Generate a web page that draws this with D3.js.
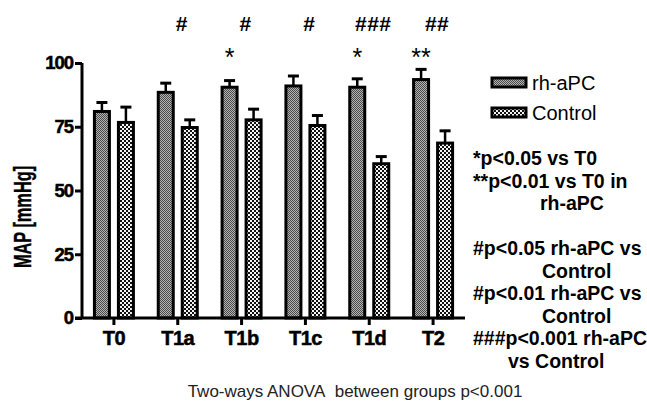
<!DOCTYPE html>
<html>
<head>
<meta charset="utf-8">
<script src="https://cdn.jsdelivr.net/npm/d3@7"></script>
<style>
  html, body { margin: 0; padding: 0; background: #fff; }
  svg { display: block; font-family: "Liberation Sans", Arial, sans-serif; }
</style>
</head>
<body>
<svg id="chart" width="647" height="401"></svg>
<script>
// data
const timepoints = ['T0', 'T1a', 'T1b', 'T1c', 'T1d', 'T2'];
const groups = ['rh-aPC', 'Control'];
const rhMean = [81, 88.5, 90.5, 91, 90.5, 93.5];
const rhSem = [3.5, 3.6, 2.6, 3.9, 3.3, 4];
const ctrlMean = [76.7, 74.7, 77.7, 75.5, 60.5, 68.6];
const ctrlSem = [6, 3, 4.2, 3.9, 2.8, 4.8];
const yTicks = [0, 25, 50, 75, 100];
const hashMarks = ['', '#', '#', '#', '###', '##'];
const starMarks = ['', '', '*', '', '*', '**'];
const noteLines = [
    ['*p<0.05 vs T0'],
    ['**p<0.01 vs T0 in', 'rh-aPC'],
    [],
    ['#p<0.05 rh-aPC vs', 'Control'],
    ['#p<0.01 rh-aPC vs', 'Control'],
    ['###p<0.001 rh-aPC', 'vs Control']
];
const footnote = 'Two-ways ANOVA\u00a0 between groups p<0.001';

const svg = d3.select('#chart');

// patterns
const defs = svg.append('defs');
const pRh = defs.append('pattern').attr('id', 'pat-rh')
    .attr('patternUnits', 'userSpaceOnUse').attr('width', 2).attr('height', 2);
pRh.append('rect').attr('width', 2).attr('height', 2).attr('fill', '#b4b4b4');
pRh.append('rect').attr('width', 1).attr('height', 1).attr('fill', '#4a4a4a');
pRh.append('rect').attr('x', 1).attr('y', 1).attr('width', 1).attr('height', 1).attr('fill', '#4a4a4a');

const pCt = defs.append('pattern').attr('id', 'pat-ctrl')
    .attr('patternUnits', 'userSpaceOnUse').attr('width', 4).attr('height', 4);
pCt.append('rect').attr('width', 4).attr('height', 4).attr('fill', '#f4f4f4');
pCt.append('rect').attr('width', 2).attr('height', 2).attr('fill', '#111');
pCt.append('rect').attr('x', 2).attr('y', 2).attr('width', 2).attr('height', 2).attr('fill', '#111');

const fills = {'rh-aPC': 'url(#pat-rh)', 'Control': 'url(#pat-ctrl)'};

// scales
const x0 = d3.scaleBand().domain(timepoints).range([82, 465]);
const x1 = d3.scaleBand().domain(groups).range([-24, 24])
    .paddingInner(0.375).paddingOuter(0.1875);
const y = d3.scaleLinear().domain([0, 100]).range([318, 63]);

const rows = [];
timepoints.forEach((t, i) => {
    rows.push({t, g: 'rh-aPC', mean: rhMean[i], sem: rhSem[i]});
    rows.push({t, g: 'Control', mean: ctrlMean[i], sem: ctrlSem[i]});
});
const cx = d => x0(d.t) + x0.bandwidth() / 2 + x1(d.g) + x1.bandwidth() / 2;

// error bars (behind bars)
const eb = svg.append('g').attr('stroke', '#000');
eb.selectAll('line.stem').data(rows).enter().append('line')
    .attr('x1', cx).attr('x2', cx)
    .attr('y1', d => y(d.mean)).attr('y2', d => y(d.mean + d.sem))
    .attr('stroke-width', 2.5);
eb.selectAll('line.cap').data(rows).enter().append('line')
    .attr('x1', d => cx(d) - 5.5).attr('x2', d => cx(d) + 5.5)
    .attr('y1', d => y(d.mean + d.sem)).attr('y2', d => y(d.mean + d.sem))
    .attr('stroke-width', 3);

// bars
svg.append('g').selectAll('rect').data(rows).enter().append('rect')
    .attr('x', d => cx(d) - x1.bandwidth() / 2)
    .attr('y', d => y(d.mean))
    .attr('width', x1.bandwidth())
    .attr('height', d => y(0) - y(d.mean))
    .attr('fill', d => fills[d.g])
    .attr('stroke', '#000')
    .attr('stroke-width', 3);

// y axis
const yAxis = svg.append('g').attr('transform', 'translate(82,0)')
    .call(d3.axisLeft(y).tickValues(yTicks).tickSize(7).tickPadding(2));
yAxis.select('.domain').attr('d', `M0,${y(100)}V${y(0)}`).attr('stroke-width', 3);
yAxis.selectAll('.tick line').attr('stroke-width', 3);
yAxis.selectAll('.tick text').attr('font-size', 18.5).attr('font-weight', 'bold')
    .attr('font-family', '"Liberation Sans", Arial, sans-serif').attr('fill', '#000')
    .attr('stroke', '#000').attr('stroke-width', 0.5)
    .attr('letter-spacing', -1);

// x axis
const xAxis = svg.append('g').attr('transform', `translate(0,${y(0)})`)
    .call(d3.axisBottom(x0).tickSize(7).tickPadding(6));
xAxis.select('.domain').attr('d', 'M75,0H465').attr('stroke-width', 3);
xAxis.selectAll('.tick line').attr('stroke-width', 3);
xAxis.selectAll('.tick text').attr('font-size', 20).attr('font-weight', 'bold')
    .attr('font-family', '"Liberation Sans", Arial, sans-serif').attr('fill', '#000')
    .attr('stroke', '#000').attr('stroke-width', 0.5)
    .attr('letter-spacing', -0.5);

// y label
svg.append('text')
    .attr('transform', 'translate(31,217) rotate(-90) scale(0.68,1)')
    .attr('text-anchor', 'middle')
    .attr('font-size', 24).attr('font-weight', 'bold')
    .attr('stroke', '#000').attr('stroke-width', 0.4)
    .text('MAP [mmHg]');

// significance marks
svg.append('g').selectAll('text').data(timepoints).enter().append('text')
    .attr('x', t => x0(t) + x0.bandwidth() / 2 + 4)
    .attr('y', 31)
    .attr('text-anchor', 'middle')
    .attr('font-size', 21).attr('font-weight', 'bold').attr('letter-spacing', 0.5)
    .text((t, i) => hashMarks[i]);
svg.append('g').selectAll('text').data(timepoints).enter().append('text')
    .attr('x', t => x0(t) + x0.bandwidth() / 2 + x1('rh-aPC') + x1.bandwidth() / 2)
    .attr('y', 66)
    .attr('text-anchor', 'middle')
    .attr('font-size', 25)
    .text((t, i) => starMarks[i]);

// legend
const legend = svg.append('g');
groups.forEach((g, i) => {
    const ly = 78 + i * 30;
    legend.append('rect').attr('x', 492).attr('y', ly).attr('width', 34).attr('height', 9)
        .attr('fill', fills[g]).attr('stroke', '#000').attr('stroke-width', 3);
    legend.append('text').attr('x', 532).attr('y', ly + 12)
        .attr('font-size', 20).text(g);
});

// notes
const noteIndent = [540, 542, 542, 508];
let lineNo = 0, contNo = 0;
const notes = svg.append('g').attr('font-size', 19.5).attr('font-weight', 'bold');
noteLines.forEach(block => {
    if (block.length === 0) { lineNo++; return; }
    block.forEach((txt, j) => {
        notes.append('text')
            .attr('x', j === 0 ? 473 : noteIndent[contNo++])
            .attr('y', 165 + lineNo * 22.5)
            .text(txt);
        lineNo++;
    });
});

// footnote
svg.append('text').attr('x', 355).attr('y', 397)
    .attr('text-anchor', 'middle').attr('font-size', 17).attr('fill', '#222')
    .text(footnote);
</script>
</body>
</html>
